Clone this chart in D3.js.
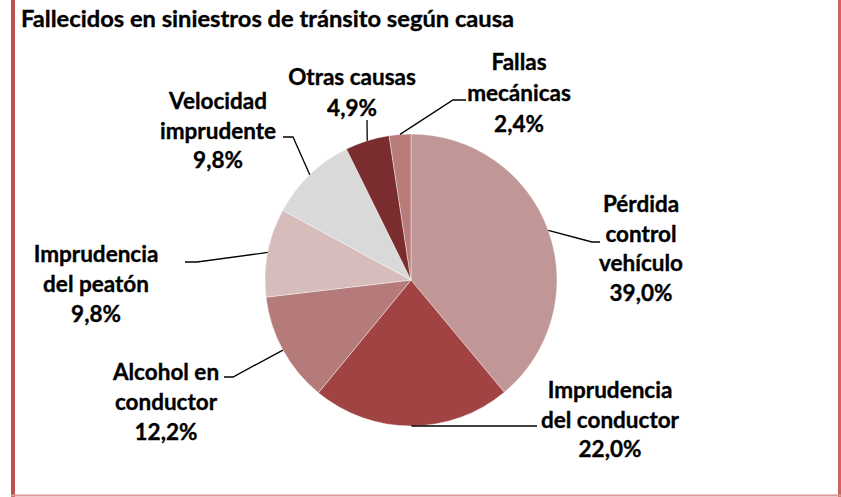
<!DOCTYPE html>
<html>
<head>
<meta charset="utf-8">
<script src="https://cdn.jsdelivr.net/npm/d3@7"></script>
<style>
  body { margin: 0; background: #fff; }
  text { font-family: Lato, "Open Sans", sans-serif; font-weight: bold; fill: #000; }
</style>
</head>
<body>
<div id="chart"></div>
<script>
// causas y porcentajes (sentido horario desde las 12)
var categories = ["Pérdida control vehículo", "Imprudencia del conductor", "Alcohol en conductor",
  "Imprudencia del peatón", "Velocidad imprudente", "Otras causas", "Fallas mecánicas"];
var values = [39.0, 22.0, 12.2, 9.8, 9.8, 4.9, 2.4];
var valueLabels = ["39,0%", "22,0%", "12,2%", "9,8%", "9,8%", "4,9%", "2,4%"];
// cómo se parte cada etiqueta en líneas
var labelLines = [
  ["Pérdida", "control", "vehículo"],
  ["Imprudencia", "del conductor"],
  ["Alcohol en", "conductor"],
  ["Imprudencia", "del peatón"],
  ["Velocidad", "imprudente"],
  ["Otras causas"],
  ["Fallas", "mecánicas"]
];
var colors = ["#C09796", "#A04342", "#B47B7A", "#D6BCBB", "#D9D9D9", "#7A2C2E", "#B87C7B"];

var width = 841, height = 497;
var cx = 411, cy = 280, radius = 146;

// posición de cada etiqueta (centro de la primera línea) y tramo de la línea guía junto al texto
var labelPos = [
  { x: 641, y: 204, lineH: 29.5 },
  { x: 610, y: 390, lineH: 29.5 },
  { x: 166, y: 372, lineH: 30 },
  { x: 96, y: 254, lineH: 30 },
  { x: 218, y: 101, lineH: 29.5 },
  { x: 352, y: 77, lineH: 31 },
  { x: 519, y: 62, lineH: 31 }
];
var leaders = [
  [[600, 242], [592, 242]],
  [[537, 426], [537, 426]],
  [[224, 377], [233, 377]],
  [[185, 262], [197, 262]],
  [[283, 137], [293, 137]],
  [[367, 120], [367, 120]],
  [[466, 100], [453, 100]]
];

var svg = d3.select("#chart").append("svg")
  .attr("width", width)
  .attr("height", height);

svg.append("rect").attr("width", width).attr("height", height).attr("fill", "#fff");

// marco
svg.append("line").attr("x1", 13).attr("x2", 13).attr("y1", 0).attr("y2", 497)
  .attr("stroke", "#C0504D").attr("stroke-width", 4);
svg.append("line").attr("x1", 839.5).attr("x2", 839.5).attr("y1", 0).attr("y2", 497)
  .attr("stroke", "#CD6461").attr("stroke-width", 3);
svg.append("line").attr("x1", 11).attr("x2", 841).attr("y1", 495.5).attr("y2", 495.5)
  .attr("stroke", "#DD9896").attr("stroke-width", 2);

svg.append("text")
  .attr("x", 21)
  .attr("y", 27)
  .attr("font-size", 23.7)
  .attr("stroke", "#000")
  .attr("stroke-width", 0.35)
  .text("Fallecidos en siniestros de tránsito según causa");

var data = categories.map(function (c, i) {
  return { cat: c, value: values[i], label: valueLabels[i], lines: labelLines[i], color: colors[i], i: i };
});

var pie = d3.pie().value(function (d) { return d.value; }).sort(null);
var arc = d3.arc().innerRadius(0).outerRadius(radius);
var arcs = pie(data);

var g = svg.append("g").attr("transform", "translate(" + cx + "," + cy + ")");
g.selectAll("path")
  .data(arcs)
  .enter()
  .append("path")
  .attr("d", arc)
  .attr("fill", function (d) { return d.data.color; })
  .attr("stroke", "#fff")
  .attr("stroke-opacity", 0.5)
  .attr("stroke-width", 0.8);

// líneas guía: desde el punto medio del borde de cada porción
arcs.forEach(function (a, i) {
  var ang = (a.startAngle + a.endAngle) / 2;
  var px = cx + radius * Math.sin(ang);
  var py = cy - radius * Math.cos(ang);
  var pts = [leaders[i][0], leaders[i][1], [px, py]];
  svg.append("path")
    .attr("d", d3.line()(pts))
    .attr("fill", "none")
    .attr("stroke", "#000")
    .attr("stroke-width", 1.3);
});

// etiquetas
arcs.forEach(function (a, i) {
  var p = labelPos[i];
  var lines = a.data.lines.concat([a.data.label]);
  var t = svg.append("text")
    .attr("text-anchor", "middle")
    .attr("font-size", 22.5)
    .attr("stroke", "#000")
    .attr("stroke-width", 0.35);
  lines.forEach(function (ln, k) {
    t.append("tspan")
      .attr("x", p.x)
      .attr("y", p.y + 8 + k * p.lineH)
      .text(ln);
  });
});
</script>
</body>
</html>
